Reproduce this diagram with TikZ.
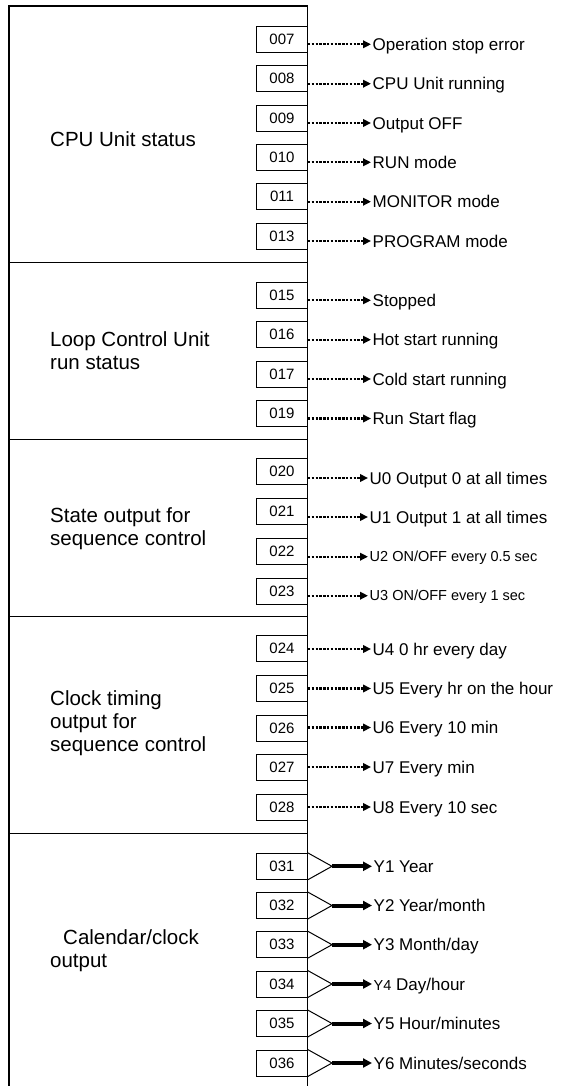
\documentclass[tikz,border=0pt]{standalone}
\usepackage{fontspec}
\setmainfont{Liberation Sans}
\usetikzlibrary{arrows.meta}
\tikzset{
    addr/.style={draw, line width=0.8pt, minimum width=51pt, minimum height=26pt, inner sep=0pt, font=\fontsize{15}{17}\selectfont},
    lbl/.style={anchor=west, inner xsep=1.5pt, inner ysep=0pt, text height=12.2pt, text depth=0pt, font=\fontsize{17}{20}\selectfont},
    slbl/.style={lbl, text height=10.5pt, font=\fontsize{14.5}{17}\selectfont},
    grp/.style={anchor=west, align=left, inner sep=0pt, font=\fontsize{20.5}{23}\selectfont},
    dotarrow/.style={line width=2.2pt, dash pattern=on 2.5pt off 1.3pt, -{Triangle[length=8pt,width=7.5pt]}},
    bigarrow/.style={line width=4pt, -{Triangle[length=9pt,width=9pt]}}
}
\begin{document}
\begin{tikzpicture}[x=1pt,y=-1pt]
        \useasboundingbox (0,0) rectangle (560,1086);
        %draw the frame and the section lines
        \draw[line width=1.5pt] (9,1086) -- (9,6) -- (307.5,6) -- (307.5,1086);
        \draw[line width=1pt] (9,262) -- (307.5,262);
        \draw[line width=1pt] (9,439.5) -- (307.5,439.5);
        \draw[line width=1pt] (9,616) -- (307.5,616);
        \draw[line width=1pt] (9,833) -- (307.5,833);
        
        %section names
        \node[grp] (cpu) at (50,139) {CPU Unit status};
        \node[grp] (loop) at (50,351) {Loop Control Unit\\run status};
        \node[grp] (state) at (50,529) {State output for\\sequence control};
        \node[grp] (clock) at (50,723) {Clock timing\\output for\\sequence control};
        \node[grp] (cal) at (50,951) {\hspace*{13pt}Calendar/clock\\output};
        
        %CPU Unit status
        \node[addr] (a007) at (282,39.3) {007};
        \node[lbl] (t007) at (371,44.3) {Operation stop error};
        \draw[dotarrow] (a007.east |- t007.west) -- (t007.west);
        \node[addr] (a008) at (282,78.7) {008};
        \node[lbl] (t008) at (371,83.7) {CPU Unit running};
        \draw[dotarrow] (a008.east |- t008.west) -- (t008.west);
        \node[addr] (a009) at (282,118) {009};
        \node[lbl] (t009) at (371,123) {Output OFF};
        \draw[dotarrow] (a009.east |- t009.west) -- (t009.west);
        \node[addr] (a010) at (282,157.3) {010};
        \node[lbl] (t010) at (371,162.3) {RUN mode};
        \draw[dotarrow] (a010.east |- t010.west) -- (t010.west);
        \node[addr] (a011) at (282,196.7) {011};
        \node[lbl] (t011) at (371,201.7) {MONITOR mode};
        \draw[dotarrow] (a011.east |- t011.west) -- (t011.west);
        \node[addr] (a013) at (282,236) {013};
        \node[lbl] (t013) at (371,241) {PROGRAM mode};
        \draw[dotarrow] (a013.east |- t013.west) -- (t013.west);
        
        %Loop Control Unit run status
        \node[addr] (a015) at (282,295.3) {015};
        \node[lbl] (t015) at (371,300.3) {Stopped};
        \draw[dotarrow] (a015.east |- t015.west) -- (t015.west);
        \node[addr] (a016) at (282,334.7) {016};
        \node[lbl] (t016) at (371,339.7) {Hot start running};
        \draw[dotarrow] (a016.east |- t016.west) -- (t016.west);
        \node[addr] (a017) at (282,374) {017};
        \node[lbl] (t017) at (371,379) {Cold start running};
        \draw[dotarrow] (a017.east |- t017.west) -- (t017.west);
        \node[addr] (a019) at (282,413.5) {019};
        \node[lbl] (t019) at (371,418.5) {Run Start flag};
        \draw[dotarrow] (a019.east |- t019.west) -- (t019.west);
        
        %state output
        \node[addr] (a020) at (282,471.7) {020};
        \node[lbl] (t020) at (368,478) {U0 Output 0 at all times};
        \draw[dotarrow] (a020.east |- t020.west) -- (t020.west);
        \node[addr] (a021) at (282,511.7) {021};
        \node[lbl] (t021) at (368,517) {U1 Output 1 at all times};
        \draw[dotarrow] (a021.east |- t021.west) -- (t021.west);
        \node[addr] (a022) at (282,551.7) {022};
        \node[slbl] (t022) at (368,556.7) {U2 ON/OFF every 0.5 sec};
        \draw[dotarrow] (a022.east |- t022.west) -- (t022.west);
        \node[addr] (a023) at (282,591.7) {023};
        \node[slbl] (t023) at (368,595.7) {U3 ON/OFF every 1 sec};
        \draw[dotarrow] (a023.east |- t023.west) -- (t023.west);
        
        %clock timing output
        \node[addr] (a024) at (282,648) {024};
        \node[lbl] (t024) at (371,649) {U4 0 hr every day};
        \draw[dotarrow] (a024.east |- t024.west) -- (t024.west);
        \node[addr] (a025) at (282,688) {025};
        \node[lbl] (t025) at (371,688.5) {U5 Every hr on the hour};
        \draw[dotarrow] (a025.east |- t025.west) -- (t025.west);
        \node[addr] (a026) at (282,728) {026};
        \node[lbl] (t026) at (371,727.5) {U6 Every 10 min};
        \draw[dotarrow] (a026.east |- t026.west) -- (t026.west);
        \node[addr] (a027) at (282,767.5) {027};
        \node[lbl] (t027) at (371,767) {U7 Every min};
        \draw[dotarrow] (a027.east |- t027.west) -- (t027.west);
        \node[addr] (a028) at (282,807) {028};
        \node[lbl] (t028) at (371,807) {U8 Every 10 sec};
        \draw[dotarrow] (a028.east |- t028.west) -- (t028.west);
        
        %calendar/clock output
        \node[addr] (a031) at (282,866.3) {031};
        \coordinate (p031) at (332,866.3);
        \node[lbl] (t031) at (372,866.3) {Y1 Year};
        \draw[line width=1pt] (a031.north east) -- (p031) -- (a031.south east);
        \draw[bigarrow] (p031) -- (t031.west);
        \node[addr] (a032) at (282,905.5) {032};
        \coordinate (p032) at (332,905.5);
        \node[lbl] (t032) at (372,905.5) {Y2 Year/month};
        \draw[line width=1pt] (a032.north east) -- (p032) -- (a032.south east);
        \draw[bigarrow] (p032) -- (t032.west);
        \node[addr] (a033) at (282,944.7) {033};
        \coordinate (p033) at (332,944.7);
        \node[lbl] (t033) at (372,944.7) {Y3 Month/day};
        \draw[line width=1pt] (a033.north east) -- (p033) -- (a033.south east);
        \draw[bigarrow] (p033) -- (t033.west);
        \node[addr] (a034) at (282,984) {034};
        \coordinate (p034) at (332,984);
        \node[lbl] (t034) at (372,984) {{\fontsize{14.5}{17}\selectfont Y4} Day/hour};
        \draw[line width=1pt] (a034.north east) -- (p034) -- (a034.south east);
        \draw[bigarrow] (p034) -- (t034.west);
        \node[addr] (a035) at (282,1023.5) {035};
        \coordinate (p035) at (332,1023.5);
        \node[lbl] (t035) at (372,1023.5) {Y5 Hour/minutes};
        \draw[line width=1pt] (a035.north east) -- (p035) -- (a035.south east);
        \draw[bigarrow] (p035) -- (t035.west);
        \node[addr] (a036) at (282,1063) {036};
        \coordinate (p036) at (332,1063);
        \node[lbl] (t036) at (372,1063) {Y6 Minutes/seconds};
        \draw[line width=1pt] (a036.north east) -- (p036) -- (a036.south east);
        \draw[bigarrow] (p036) -- (t036.west);
        
    \end{tikzpicture}
\end{document}
